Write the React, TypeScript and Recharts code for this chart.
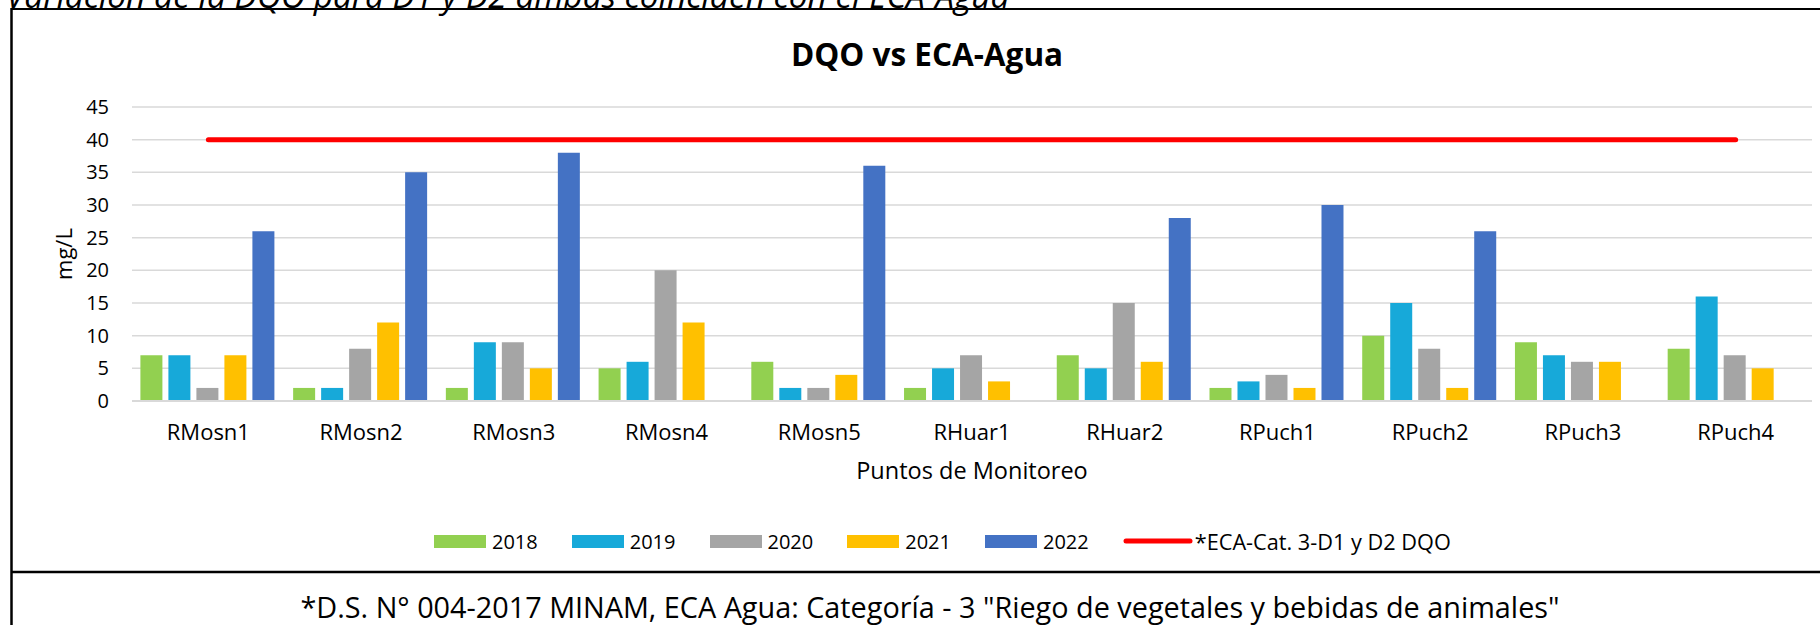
import React from 'react';
import { ComposedChart, Bar, Line, XAxis, YAxis, CartesianGrid, Legend } from 'recharts';

const categories = ['RMosn1', 'RMosn2', 'RMosn3', 'RMosn4', 'RMosn5', 'RHuar1', 'RHuar2', 'RPuch1', 'RPuch2', 'RPuch3', 'RPuch4'];
const s2018 = [7, 2, 2, 5, 6, 2, 7, 2, 10, 9, 8];
const s2019 = [7, 2, 9, 6, 2, 5, 5, 3, 15, 7, 16];
const s2020 = [2, 8, 9, 20, 2, 7, 15, 4, 8, 6, 7];
const s2021 = [7, 12, 5, 12, 4, 3, 6, 2, 2, 6, 5];
const s2022 = [26, 35, 38, null, 36, null, 28, 30, 26, null, null];
const ecaLimit = [40, 40, 40, 40, 40, 40, 40, 40, 40, 40, 40];
const yTicks = [0, 5, 10, 15, 20, 25, 30, 35, 40, 45];

const barSeries = [
  { key: 'y2018', name: '2018', color: '#92D050', values: s2018 },
  { key: 'y2019', name: '2019', color: '#17A9D9', values: s2019 },
  { key: 'y2020', name: '2020', color: '#A5A5A5', values: s2020 },
  { key: 'y2021', name: '2021', color: '#FFC000', values: s2021 },
  { key: 'y2022', name: '2022', color: '#4472C4', values: s2022 },
];
const ecaName = '*ECA-Cat. 3-D1 y D2 DQO';

const data = categories.map((c, i) => {
  const row: any = { name: c, eca: ecaLimit[i] };
  barSeries.forEach((s) => {
    row[s.key] = s.values[i];
  });
  return row;
});

const FONT = "'Open Sans', sans-serif";
const legendOrder = [...barSeries.map((s) => s.name), ecaName];

const renderLegend = (props: any) => {
  const payload = [...(props.payload || [])].sort(
    (a: any, b: any) => legendOrder.indexOf(a.value) - legendOrder.indexOf(b.value)
  );
  return (
    <div style={{ display: 'flex', alignItems: 'center', paddingLeft: 434, height: 28, fontFamily: FONT, fontSize: 20, color: '#000' }}>
      {payload.map((p: any, i: number) => (
        <div key={i} style={{ display: 'flex', alignItems: 'center', marginRight: 34 }}>
          {p.type === 'line' ? (
            <svg width={70} height={12} style={{ display: 'block' }}>
              <line x1={3} y1={6} x2={67} y2={6} stroke={p.color} strokeWidth={5} strokeLinecap="round" />
            </svg>
          ) : (
            <div style={{ width: 52, height: 13, background: p.color }} />
          )}
          <span style={{ marginLeft: p.type === 'line' ? 2 : 6, whiteSpace: 'nowrap', fontSize: p.type === 'line' ? 21.7 : 20 }}>{p.value}</span>
        </div>
      ))}
    </div>
  );
};

const MgLabel = (props: any) => {
  const vb = props.viewBox || { x: 0, y: 0, width: 0, height: 0 };
  const cx = vb.x + 1;
  const cy = vb.y + vb.height / 2;
  return (
    <text x={cx} y={cy} transform={`rotate(-90 ${cx} ${cy})`} textAnchor="middle" dominantBaseline="central" fontSize={22} fontFamily={FONT} fill="#000">
      mg/L
    </text>
  );
};

export default function App() {
  return (
    <div style={{ position: 'absolute', left: 0, top: 0, width: 1820, height: 625, overflow: 'hidden', background: '#fff' }}>
      <ComposedChart
        width={1820}
        height={625}
        data={data}
        margin={{ top: 107, right: 8, bottom: 146, left: 62 }}
        barCategoryGap="5.5%"
        barGap={6}
        style={{ fontFamily: FONT }}
      >
        <CartesianGrid vertical={false} stroke="#D9D9D9" strokeWidth={1.5} />
        <XAxis
          dataKey="name"
          height={78}
          axisLine={{ stroke: '#D9D9D9', strokeWidth: 2 }}
          tickLine={false}
          tickSize={0}
          tickMargin={23}
          interval={0}
          tick={{ fontSize: 22, fill: '#000', fontFamily: FONT }}
          label={{ value: 'Puntos de Monitoreo', position: 'insideBottom', offset: 0, fontSize: 23.5, fill: '#000', fontFamily: FONT }}
        />
        <YAxis
          width={70}
          domain={[0, 45]}
          ticks={yTicks}
          interval={0}
          axisLine={false}
          tickLine={false}
          tickSize={0}
          tickMargin={23}
          tick={{ fontSize: 20, fill: '#000', fontFamily: FONT }}
          label={<MgLabel />}
        />
        {barSeries.map((s) => (
          <Bar key={s.key} dataKey={s.key} name={s.name} fill={s.color} legendType="rect" isAnimationActive={false} />
        ))}
        <Line
          dataKey="eca"
          name={ecaName}
          stroke="#FF0000"
          strokeWidth={5}
          strokeLinecap="round"
          dot={false}
          activeDot={false}
          legendType="line"
          isAnimationActive={false}
        />
        <Legend
          layout="horizontal"
          verticalAlign="middle"
          align="center"
          content={renderLegend}
          wrapperStyle={{ left: 0, top: 527, width: 1820 }}
        />
      </ComposedChart>
      <svg width={1820} height={625} style={{ position: 'absolute', left: 0, top: 0, pointerEvents: 'none' }}>
        <text x={6} y={8} fontStyle="italic" fontSize={33.4} fontFamily={FONT} fill="#000">
          Variación de la DQO para D1 y D2 ambas coinciden con el ECA-Agua
        </text>
        <line x1={11} y1={9} x2={1820} y2={9} stroke="#000" strokeWidth={2} />
        <line x1={11.5} y1={8} x2={11.5} y2={625} stroke="#000" strokeWidth={2.5} />
        <line x1={11} y1={572} x2={1820} y2={572} stroke="#000" strokeWidth={2.5} />
        <text x={927} y={66} textAnchor="middle" fontSize={31.5} fontWeight="bold" fontFamily={FONT} fill="#000">
          DQO vs ECA-Agua
        </text>
        <text x={930} y={618} textAnchor="middle" fontSize={28.8} fontFamily={FONT} fill="#000">
          *D.S. N° 004-2017 MINAM, ECA Agua: Categoría - 3 "Riego de vegetales y bebidas de animales"
        </text>
      </svg>
    </div>
  );
}
